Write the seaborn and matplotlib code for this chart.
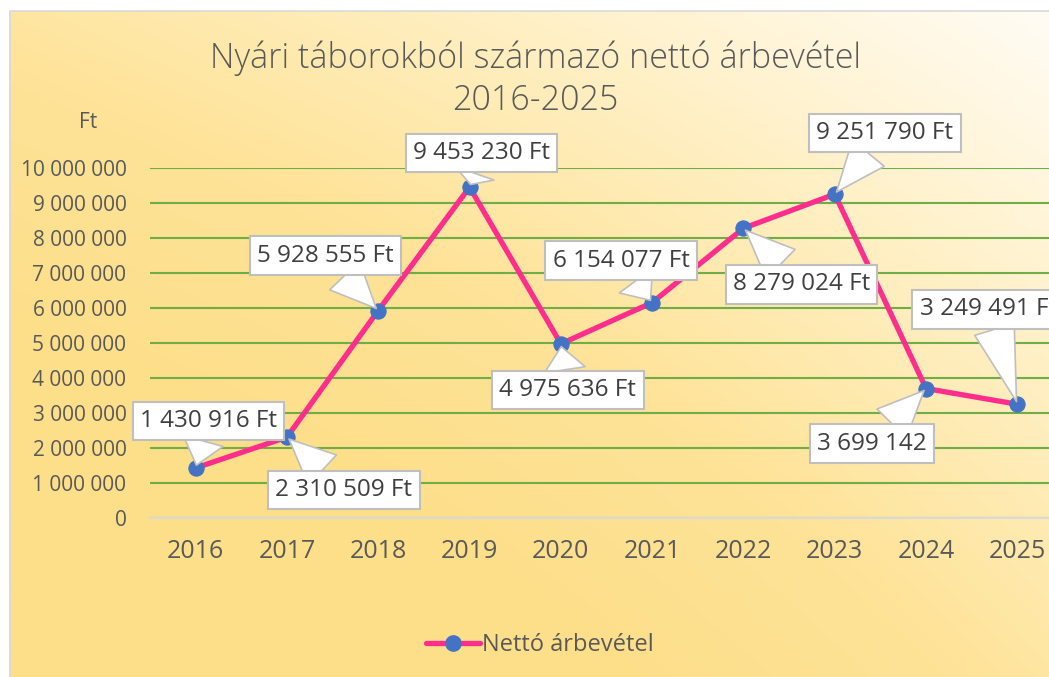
import numpy as np
import pandas as pd
import matplotlib
matplotlib.use("Agg")
import matplotlib.pyplot as plt
import seaborn as sns
from matplotlib.colors import LinearSegmentedColormap
from matplotlib.lines import Line2D
from matplotlib.patches import Rectangle

# ---------------- data ----------------
years = [2016, 2017, 2018, 2019, 2020, 2021, 2022, 2023, 2024, 2025]
revenue = [1430916, 2310509, 5928555, 9453230, 4975636, 6154077,
           8279024, 9251790, 3699142, 3249491]
value_labels = ["1 430 916 Ft", "2 310 509 Ft", "5 928 555 Ft", "9 453 230 Ft",
                "4 975 636 Ft", "6 154 077 Ft", "8 279 024 Ft", "9 251 790 Ft",
                "3 699 142", "3 249 491 Ft"]
y_ticks = [0, 1000000, 2000000, 3000000, 4000000, 5000000,
           6000000, 7000000, 8000000, 9000000, 10000000]
y_tick_labels = ["0", "1 000 000", "2 000 000", "3 000 000", "4 000 000", "5 000 000",
                 "6 000 000", "7 000 000", "8 000 000", "9 000 000", "10 000 000"]
series_name = "Nettó árbevétel"
title = "Nyári táborokból származó nettó árbevétel\n2016-2025"

# label callout offsets (pixels, layout only)
label_offsets = [(13, 47), (57, -53), (-53, 55), (12, 34), (7, -46),
                 (-31, 42), (58, -56), (50, 61), (-54, -55), (-29, 95)]

df = pd.DataFrame({"year": years, "revenue": revenue})

sns.set_theme(style="white")
plt.rcParams["font.family"] = ["Open Sans", "DejaVu Sans"]

W, H = 1049, 677
fig = plt.figure(figsize=(W / 100, H / 100), dpi=100)
fig.patch.set_facecolor("white")

# ---------------- gradient background ----------------
bg = fig.add_axes([9 / W, 0, 1 - 9 / W, (H - 11) / H])
bg.set_axis_off()
gx = np.linspace(0, 1, 400)
gy = np.linspace(0, 1, 260)  # top -> bottom
X, Y = np.meshgrid(gx, gy)
t = 0.6 * (1 - X) + 0.85 * Y - 0.4 * np.clip((X - 0.35) * Y, 0, None)
t = np.clip(t, 0, 1)
cmap = LinearSegmentedColormap.from_list("bg", ["#fffcf4", "#ffefc2", "#fee398", "#fddf8a"])
bg.imshow(t, cmap=cmap, aspect="auto", extent=[0, 1, 0, 1], vmin=0, vmax=1)
bg.set_xlim(0, 1)
bg.set_ylim(0, 1)
bg.set_zorder(0)
fig.add_artist(Rectangle((9.5 / W, -0.01), 1.1, (H - 10.5) / H + 0.01,
                         transform=fig.transFigure, fill=False,
                         ec="#d9d9d9", lw=1.2, zorder=0.5))

# ---------------- main axes ----------------
ax = fig.add_axes([150 / W, (H - 518) / H, 913 / W, 350 / H])
ax.set_zorder(1)
ax.patch.set_alpha(0)

line_color = "#ff2d8c"
marker_color = "#4472c4"

sns.lineplot(data=df, x="year", y="revenue", ax=ax, color=line_color, lw=3.8,
             marker="o", markersize=11, markerfacecolor=marker_color,
             markeredgecolor=marker_color, zorder=3, legend=False)

ax.set_xlim(2015.5, 2025.5)
ax.set_ylim(0, 10000000)
ax.set_xticks(years)
ax.set_xticklabels([str(y) for y in years])
ax.set_yticks(y_ticks)
ax.set_yticklabels(y_tick_labels)
ax.set_xlabel("")
ax.set_ylabel("")
ax.tick_params(axis="x", length=0, pad=15, labelsize=18, labelcolor="#595959")
ax.tick_params(axis="y", length=0, pad=17, labelsize=15, labelcolor="#595959")
ax.yaxis.grid(True, color="#70ad47", lw=1.5)
ax.xaxis.grid(False)
for s in ["top", "right", "left"]:
    ax.spines[s].set_visible(False)
ax.spines["bottom"].set_color("#d9d9d9")
ax.spines["bottom"].set_linewidth(1.5)
ax.spines["bottom"].set_zorder(2)

# ---------------- data callouts ----------------
for x, y, lab, (dx, dy) in zip(years, revenue, value_labels, label_offsets):
    ax.annotate(lab, xy=(x, y), xytext=(dx, dy), textcoords="offset pixels",
                ha="center", va="center", fontsize=17.5, color="#404040",
                annotation_clip=False, zorder=5,
                bbox=dict(boxstyle="square,pad=0.3", fc="white", ec="#bfbfbf", lw=1.5),
                arrowprops=dict(arrowstyle="wedge,tail_width=1.7", fc="white",
                                ec="#bfbfbf", lw=1.2, shrinkA=0, shrinkB=2))

# ---------------- texts ----------------
fig.text(535 / W, 1 - 79 / H, title, ha="center", va="center", fontsize=24.5,
         color="#595959", linespacing=1.3, fontweight="light")
fig.text(88 / W, 1 - 123 / H, "Ft", ha="center", va="center", fontsize=15, color="#595959")

handle = Line2D([], [], color=line_color, lw=3.8, marker="o", markersize=11,
                markerfacecolor=marker_color, markeredgecolor=marker_color)
fig.legend([handle], [series_name], loc="center", bbox_to_anchor=(540 / W, 1 - 645 / H),
           frameon=False, fontsize=17, labelcolor="#595959", handlelength=2.3,
           handletextpad=0.1)

fig.savefig("out.png", dpi=100)
